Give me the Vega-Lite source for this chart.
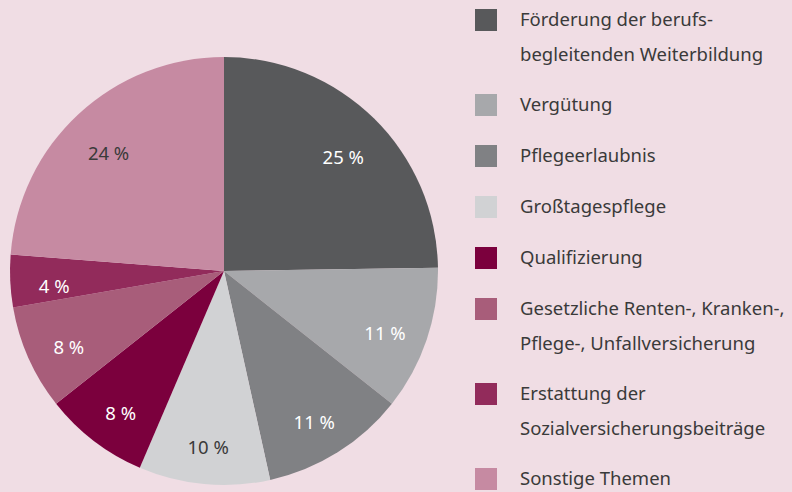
{
  "$schema": "https://vega.github.io/schema/vega-lite/v6.json",
  "width": 448,
  "height": 442,
  "autosize": {"type": "none"},
  "padding": {"left": 0, "top": 50, "right": 344, "bottom": 0},
  "background": "#f0dde4",
  "config": {"view": {"stroke": null}, "font": "Noto Sans"},
  "data": {
    "values": [
      {"k": "Förderung der berufs-|begleitenden Weiterbildung", "v": 25, "o": 1, "p": "25 %"},
      {"k": "Vergütung", "v": 11, "o": 2, "p": "11 %"},
      {"k": "Pflegeerlaubnis", "v": 11, "o": 3, "p": "11 %"},
      {"k": "Großtagespflege", "v": 10, "o": 4, "p": "10 %"},
      {"k": "Qualifizierung", "v": 8, "o": 5, "p": "8 %"},
      {"k": "Gesetzliche Renten-, Kranken-,|Pflege-, Unfallversicherung", "v": 8, "o": 6, "p": "8 %"},
      {"k": "Erstattung der|Sozialversicherungsbeiträge", "v": 4, "o": 7, "p": "4 %"},
      {"k": "Sonstige Themen", "v": 24, "o": 8, "p": "24 %"}
    ]
  },
  "encoding": {
    "theta": {"field": "v", "type": "quantitative", "stack": true},
    "order": {"field": "o", "type": "quantitative"}
  },
  "layer": [
    {
      "mark": {"type": "arc", "outerRadius": 214},
      "encoding": {
        "color": {
          "field": "k",
          "type": "nominal",
          "scale": {
            "domain": [
              "Förderung der berufs-|begleitenden Weiterbildung",
              "Vergütung",
              "Pflegeerlaubnis",
              "Großtagespflege",
              "Qualifizierung",
              "Gesetzliche Renten-, Kranken-,|Pflege-, Unfallversicherung",
              "Erstattung der|Sozialversicherungsbeiträge",
              "Sonstige Themen"
            ],
            "range": ["#58595b", "#a7a8ab", "#808184", "#d1d2d4", "#7b003d", "#a85d7a", "#922b5b", "#c68aa2"]
          },
          "legend": {
            "orient": "none",
            "legendX": 475,
            "legendY": -41,
            "title": null,
            "symbolType": "square",
            "symbolSize": 484,
            "symbolStrokeWidth": 0,
            "symbolOpacity": 1,
            "labelFontSize": 18.5,
            "labelColor": "#3a3a3a",
            "labelLimit": 400,
            "rowPadding": 29,
            "labelOffset": 23,
            "labelExpr": "split(datum.label, '|')",
            "padding": 0,
            "encode": {"labels": {"update": {"lineHeight": {"value": 35}}}}
          }
        }
      }
    },
    {
      "mark": {"type": "text", "radius": 170, "fontSize": 18.5, "dy": 8},
      "encoding": {
        "text": {"field": "p", "type": "nominal"},
        "color": {
          "condition": {"test": "datum.o == 4 || datum.o == 8", "value": "#3a3a3a"},
          "value": "#ffffff"
        }
      }
    }
  ]
}
